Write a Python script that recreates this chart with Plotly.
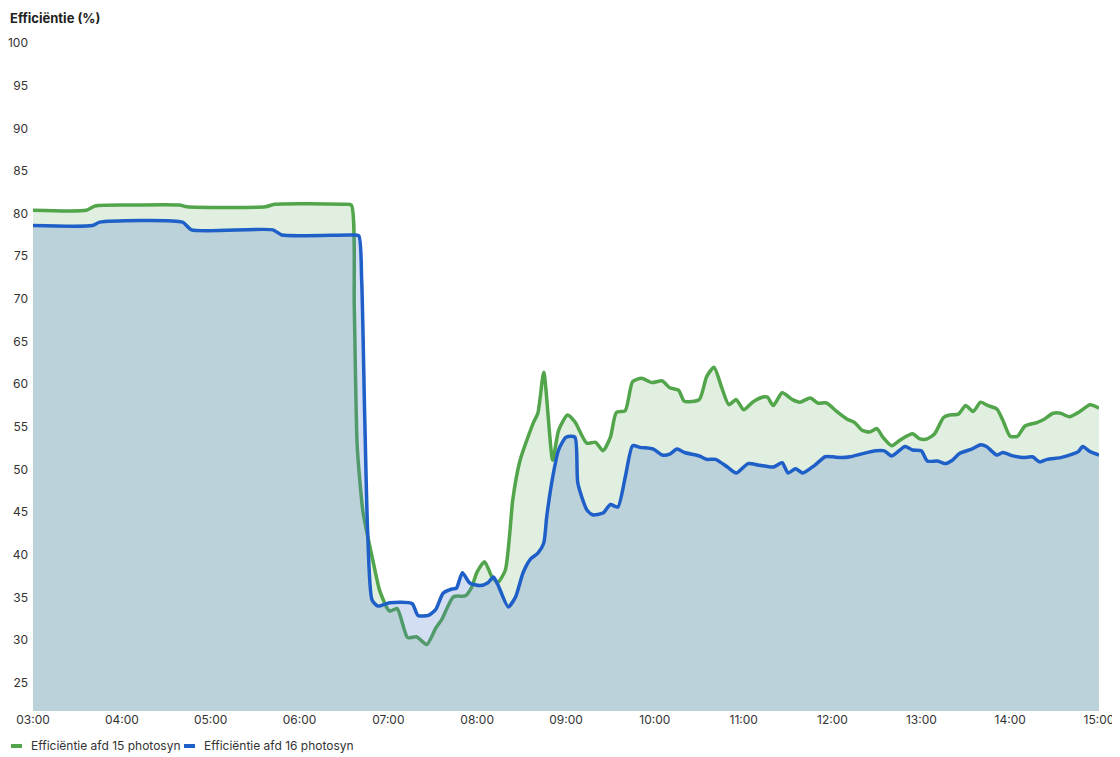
import plotly.graph_objects as go

DATE = "2024-05-01 "

# Efficiëntie afd 15 photosyn
t15 = ["03:00", "03:36", "03:42", "04:05", "04:39", "04:44", "05:37", "05:43", "06:30", "06:35",
       "06:37", "06:39", "06:43", "06:50", "06:54", "06:59", "07:01", "07:06", "07:13", "07:19",
       "07:26", "07:32", "07:36", "07:44", "07:52", "07:56", "08:00", "08:05", "08:10", "08:14",
       "08:19", "08:22", "08:24", "08:29", "08:38", "08:41", "08:45", "08:51", "08:55", "09:01",
       "09:06", "09:14", "09:20", "09:25", "09:30", "09:34", "09:40", "09:45", "09:51", "09:58",
       "10:05", "10:10", "10:16", "10:20", "10:30", "10:35", "10:40", "10:45", "10:50", "10:55",
       "11:00", "11:06", "11:13", "11:16", "11:20", "11:26", "11:33", "11:38", "11:45", "11:50",
       "11:56", "12:03", "12:10", "12:15", "12:20", "12:25", "12:30", "12:34", "12:40", "12:46",
       "12:54", "12:59", "13:04", "13:09", "13:15", "13:19", "13:25", "13:30", "13:35", "13:40",
       "13:45", "13:51", "13:55", "14:00", "14:05", "14:10", "14:18", "14:22", "14:29", "14:34",
       "14:40", "14:47", "14:54", "15:00"]
v15 = [80.4, 80.4, 80.9, 81.0, 81.0, 80.8, 80.8, 81.1, 81.1, 81.0,
       69.0, 52.7, 44.9, 39.0, 35.9, 33.8, 33.4, 33.7, 30.3, 30.4,
       29.5, 31.4, 32.4, 35.1, 35.2, 36.1, 38.0, 39.2, 37.4, 36.8,
       38.2, 42.5, 46.4, 51.1, 55.5, 56.6, 61.4, 51.1, 54.6, 56.4,
       55.6, 53.1, 53.2, 52.2, 53.8, 56.7, 56.9, 60.3, 60.7, 60.2,
       60.4, 59.6, 59.3, 58.0, 58.2, 60.9, 62.0, 59.7, 57.6, 58.2,
       57.0, 57.9, 58.5, 58.5, 57.5, 59.0, 58.2, 57.9, 58.4, 57.8,
       57.8, 56.8, 55.9, 55.5, 54.6, 54.4, 54.8, 53.8, 52.8, 53.5,
       54.2, 53.6, 53.6, 54.2, 56.1, 56.4, 56.5, 57.5, 56.8, 57.9,
       57.5, 57.1, 55.8, 53.9, 53.9, 55.1, 55.5, 55.8, 56.6, 56.6,
       56.2, 56.8, 57.6, 57.2]

# Efficiëntie afd 16 photosyn
t16 = ["03:00", "03:40", "03:45", "04:41", "04:47", "05:42", "05:48", "06:35", "06:40", "06:42",
       "06:44", "06:46", "06:49", "06:53", "07:01", "07:16", "07:20", "07:27", "07:32", "07:37",
       "07:43", "07:46", "07:50", "07:55", "08:02", "08:07", "08:11", "08:14", "08:21", "08:26",
       "08:31", "08:36", "08:41", "08:45", "08:47", "08:51", "08:55", "09:00", "09:06", "09:08",
       "09:14", "09:18", "09:25", "09:30", "09:35", "09:40", "09:45", "09:50", "09:59", "10:05",
       "10:10", "10:15", "10:20", "10:30", "10:35", "10:41", "10:49", "10:55", "11:03", "11:11",
       "11:20", "11:26", "11:30", "11:35", "11:40", "11:48", "11:55", "12:00", "12:06", "12:12",
       "12:21", "12:29", "12:35", "12:40", "12:49", "12:54", "13:00", "13:04", "13:11", "13:16",
       "13:21", "13:26", "13:34", "13:40", "13:44", "13:51", "13:55", "14:02", "14:09", "14:15",
       "14:20", "14:25", "14:34", "14:42", "14:46", "14:49", "14:54", "15:00"]
v16 = [78.6, 78.6, 79.0, 79.0, 78.1, 78.1, 77.5, 77.5, 77.4, 72.2,
       56.6, 42.9, 34.7, 34.0, 34.4, 34.3, 32.9, 32.9, 33.6, 35.5,
       36.0, 36.1, 37.9, 36.7, 36.4, 36.7, 37.4, 36.5, 33.9, 35.1,
       37.9, 39.5, 40.2, 41.4, 44.5, 49.1, 52.3, 53.8, 53.8, 48.4,
       45.3, 44.7, 44.9, 45.9, 45.6, 49.1, 52.8, 52.6, 52.4, 51.7,
       51.8, 52.4, 52.0, 51.6, 51.2, 51.2, 50.3, 49.6, 50.7, 50.5,
       50.3, 50.8, 49.6, 50.1, 49.6, 50.5, 51.5, 51.5, 51.4, 51.5,
       51.9, 52.2, 52.2, 51.6, 52.7, 52.3, 52.2, 51.0, 51.0, 50.7,
       51.1, 51.9, 52.4, 52.9, 52.7, 51.7, 52.0, 51.6, 51.4, 51.5,
       50.9, 51.2, 51.4, 51.8, 52.1, 52.7, 52.1, 51.7]

x_ticks = ["03:00", "04:00", "05:00", "06:00", "07:00", "08:00", "09:00",
           "10:00", "11:00", "12:00", "13:00", "14:00", "15:00"]
y_ticks = [25, 30, 35, 40, 45, 50, 55, 60, 65, 70, 75, 80, 85, 90, 95, 100]

names = ["Efficiëntie afd 15 photosyn", "Efficiëntie afd 16 photosyn"]
line_colors = ["#52a54b", "#1f5fc8"]
fill_colors = ["rgba(82,165,75,0.18)", "rgba(79,123,203,0.25)"]

FONT = "Inter, 'Noto Sans', sans-serif"

# The page places the figure 8px in from the window's top-left corner.
OFF = 8
W, H = 1120 - OFF, 757 - OFF
# plot area in window pixels: left 33, right 1099, top 43, bottom 711
ML = 33 - OFF
MT = 43 - OFF
MR = W - (1099 - OFF)
MB = H - (711 - OFF)
PW, PH = W - ML - MR, H - MT - MB


def px_x(p):
    """window pixel x -> paper coordinate"""
    return (p - OFF - ML) / PW


def px_y(p):
    """window pixel y -> paper coordinate"""
    return (H - MB - (p - OFF)) / PH


fig = go.Figure()
for tt, vv, nm, lc, fc in [(t15, v15, names[0], line_colors[0], fill_colors[0]),
                           (t16, v16, names[1], line_colors[1], fill_colors[1])]:
    fig.add_trace(go.Scatter(
        x=[DATE + t for t in tt], y=vv, name=nm, mode="lines",
        line=dict(color=lc, width=3.5, shape="spline", smoothing=0.6),
        fill="tozeroy", fillcolor=fc,
    ))

# custom legend (short line swatch + label), placed below the x axis
shapes, annots = [], []
leg_x = [10, 183]
for i in range(2):
    x0 = leg_x[i]
    shapes.append(dict(type="line", xref="paper", yref="paper",
                       x0=px_x(x0 + 1), x1=px_x(x0 + 12), y0=px_y(746), y1=px_y(746),
                       line=dict(color=line_colors[i], width=4)))
    annots.append(dict(text=names[i], xref="paper", yref="paper", x=px_x(x0 + 19), y=px_y(746),
                       xanchor="left", yanchor="middle", showarrow=False,
                       font=dict(size=12, color="#333333", family=FONT)))
annots.append(dict(text="<b>Efficiëntie (%)</b>", xref="paper", yref="paper",
                   x=px_x(9), y=px_y(OFF + 1), xanchor="left", yanchor="top", showarrow=False,
                   borderpad=0, font=dict(size=13, color="#222222", family=FONT)))

fig.update_layout(
    width=W, height=H,
    margin=dict(l=ML, r=MR, t=MT, b=MB),
    paper_bgcolor="white", plot_bgcolor="white",
    font=dict(family=FONT, size=12, color="#333333"),
    showlegend=False,
    shapes=shapes, annotations=annots,
)
fig.update_xaxes(
    type="date", range=[DATE + "03:00", DATE + "15:00"],
    tickvals=[DATE + t for t in x_ticks], ticktext=x_ticks,
    showgrid=False, zeroline=False, showline=False, ticks="", automargin=False,
)
fig.update_yaxes(
    range=[21.7, 100], tickvals=y_ticks, showgrid=False, zeroline=False, showline=False,
    ticks="", ticklabelstandoff=4, automargin=False,
)

fig.write_html("out.html")
